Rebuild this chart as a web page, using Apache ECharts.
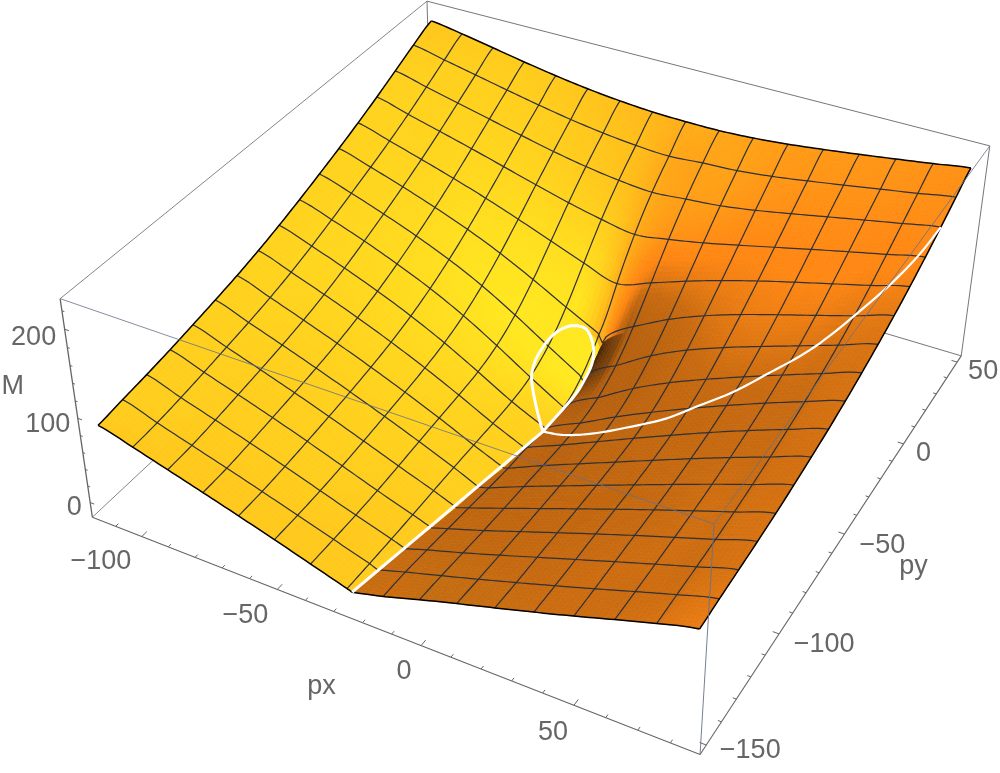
<!DOCTYPE html>
<html>
<head>
<meta charset="utf-8">
<style>html,body{margin:0;background:#fff}#chart{width:1000px;height:773px}</style>
<script src="https://cdn.jsdelivr.net/npm/echarts@6/dist/echarts.min.js"></script>
</head>
<body>
<div id="chart"></div>
<script>
// mesh lines of the surface
var pxLines = [-115, -102.5, -90, -77.5, -65, -52.5, -40, -27.5, -15, -2.5, 10, 22.5, 35, 47.5, 60, 72.5, 85];
var pyLines = [-150, -137.5, -125, -112.5, -100, -87.5, -75, -62.5, -50, -37.5, -25, -12.5, 0, 12.5, 25, 37.5, 50];

// M read at every mesh crossing, one row per py line
var mRows = [
  [88.0, 77.0, 65.3, 53.5, 41.4, 28.9, 16.0, 3.0, 10.0, 23.0, 35.2, 47.0, 59.0, 71.4, 84.4, 97.0, 108.0],
  [92.0, 79.0, 66.8, 54.6, 42.0, 29.1, 16.0, 3.0, 9.0, 21.0, 33.2, 45.7, 58.5, 71.5, 84.9, 98.0, 110.0],
  [95.8, 82.6, 70.2, 57.5, 44.2, 30.2, 16.3, 3.2, 5.9, 18.4, 31.6, 45.2, 58.7, 72.3, 85.6, 98.8, 111.7],
  [100.3, 87.1, 74.3, 61.1, 47.1, 32.4, 17.6, 3.8, 2.4, 15.8, 30.2, 44.6, 58.9, 72.9, 86.6, 100.0, 113.5],
  [105.4, 92.0, 78.6, 64.9, 50.5, 35.3, 19.8, 4.8, -1.0, 13.9, 29.0, 44.0, 58.9, 73.6, 87.9, 102.0, 115.9],
  [110.8, 97.1, 83.3, 69.1, 54.2, 38.7, 22.4, 5.5, -4.7, 12.1, 28.0, 43.7, 59.3, 74.8, 90.1, 104.8, 119.1],
  [116.7, 103.0, 88.9, 74.2, 58.7, 42.2, 24.7, 5.9, -8.0, 10.1, 27.0, 43.8, 60.6, 77.2, 93.2, 108.5, 123.0],
  [123.6, 110.1, 95.9, 80.8, 64.3, 46.4, 26.9, 6.1, -9.0, 8.3, 26.8, 45.2, 63.2, 80.8, 97.4, 113.0, 127.5],
  [131.6, 118.7, 104.6, 89.1, 71.9, 52.3, 30.2, 7.2, -12.0, 8.5, 30.3, 50.1, 68.6, 86.1, 102.8, 118.5, 133.0],
  [140.5, 128.3, 114.5, 99.0, 81.7, 61.4, 37.7, 12.2, -12.0, 14.0, 39.1, 59.8, 77.6, 94.0, 109.8, 125.0, 139.5],
  [150.1, 138.4, 125.1, 110.4, 93.9, 74.4, 51.2, 25.8, 1.1, 28.1, 53.8, 73.8, 90.2, 104.7, 118.7, 132.7, 146.8],
  [160.1, 148.8, 136.4, 123.0, 108.2, 91.1, 71.3, 50.0, 29.7, 51.8, 73.4, 90.7, 105.0, 117.6, 129.7, 142.1, 155.0],
  [170.8, 159.8, 148.6, 136.9, 124.3, 110.4, 95.7, 81.1, 68.2, 81.5, 96.0, 109.1, 121.1, 132.1, 142.7, 153.3, 164.4],
  [182.3, 171.9, 162.1, 152.0, 141.4, 130.7, 120.5, 111.9, 105.5, 111.5, 119.2, 128.4, 138.0, 147.6, 156.9, 166.0, 175.1],
  [194.6, 185.3, 176.5, 167.6, 158.7, 150.2, 143.1, 137.7, 134.7, 137.9, 141.5, 147.7, 155.3, 163.3, 171.3, 179.1, 186.8],
  [207.0, 199.0, 191.1, 183.1, 175.5, 168.6, 163.0, 159.0, 157.0, 160.0, 162.0, 166.4, 172.3, 178.8, 185.4, 192.0, 199.0],
  [218.0, 212.0, 205.0, 197.9, 191.4, 185.9, 181.8, 179.0, 178.0, 178.0, 180.0, 183.6, 188.3, 193.6, 199.2, 205.0, 211.0]
];

// px and M of the crease on the py lines that it crosses
var creasePx = [-25.75, -24.75, -22.75, -20.9, -19.4, -18.6, -16.6, -15.8, -14.9, -14.4, -14, -13.75];
var creaseM = [1, -1, -2.5, -4, -6, -8, -9.5, -11, -12.5, -13, -5, 20];
// how steeply the surface leaves the crease on those lines
var creasePower = [1, 1, 1, 1, 1, 1, 1, 1, 0.8, 0.6, 0.5, 0.6];

// white curves, [px, py]
var loopCurve = [[-15, -51.9], [-19, -47.6], [-27.5, -37.5], [-29, -30.9], [-28.5, -23.75], [-26.9, -19.25], [-24.1, -15.6],
  [-19.25, -13.1], [-14.4, -16.25], [-13.75, -22.5], [-14.4, -32], [-15, -40.5], [-15, -51.9]];
var rightCurve = [[-15, -51.9], [-8.75, -55.6], [-2.5, -56.9], [6.9, -57.9], [18.1, -56.25], [30.5, -54.25], [35.6, -50], [47.5, -44.5],
  [53.75, -37.5], [60, -32.1], [66.25, -25], [72.5, -12.5], [78.75, 0], [83, 12.5], [85, 25]];

// box and ticks
var pxRange = [-119, 89];
var pyRange = [-154, 54];
var mRange = [-18, 233];
var pxTicks = [-100, -50, 0, 50];
var pyTicks = [-150, -100, -50, 0, 50];
var mTicks = [0, 100, 200];
var pxMinor = [-110, -90, -80, -70, -60, -40, -30, -20, -10, 10, 20, 30, 40, 60, 70, 80];
var pyMinor = [-140, -130, -120, -110, -90, -80, -70, -60, -40, -30, -20, -10, 10, 20, 30, 40];
var mMinor = [20, 40, 60, 80, 120, 140, 160, 180, 220];

var SUB = 8;
var N = pxLines.length - 1;

// camera, box coordinates 0..1 to picture coordinates
function project(px, py, m) {
    var u = (px - pxRange[0]) / (pxRange[1] - pxRange[0]);
    var v = (py - pyRange[0]) / (pyRange[1] - pyRange[0]);
    var w = (m - mRange[0]) / (mRange[1] - mRange[0]);
    var d = -0.11858 * u + 0.209 * v - 0.06819 * w + 1;
    return [(524.69 * u + 431.08 * v - 36.32 * w + 92.35) / d, (147.81 * u - 276.98 * v - 238.91 * w + 517.21) / d];
}

function toI(px) { return (px - pxLines[0]) / (pxLines[1] - pxLines[0]); }
function toJ(py) { return (py - pyLines[0]) / (pyLines[1] - pyLines[0]); }

function cat(a, b, c, d, t) {
    return 0.5 * (2 * b + (c - a) * t + (2 * a - 5 * b + 4 * c - d) * t * t + (3 * b - a - 3 * c + d) * t * t * t);
}

function creaseAt(j) {
    return j < creasePx.length ? toI(creasePx[j]) : 8;
}
function creaseAtY(y) {
    var j = Math.min(Math.floor(y), N - 1);
    return creaseAt(j) + (creaseAt(j + 1) - creaseAt(j)) * (y - j);
}

function warp(a, c) {
    if (a <= 7 || a >= 9) return a;
    return a < 8 ? 7 + (a - 7) * (c - 7) : c + (a - 8) * (9 - c);
}
function unwarp(x, c) {
    if (x <= 7 || x >= 9) return x;
    return x < c ? 7 + (x - 7) / (c - 7) : 8 + (x - c) / (9 - c);
}

// one py line at warped position a: two separate pieces joined at the crease
function rowValue(j, a) {
    var r = mRows[j];
    var c = creaseAt(j);
    var x = warp(a, c);
    if (j >= creasePx.length) {
        var k0 = Math.min(Math.floor(x), N - 1);
        return cat(r[Math.max(k0 - 1, 0)], r[k0], r[k0 + 1], r[Math.min(k0 + 2, N)], x - k0);
    }
    var s = Math.floor(c);
    var f = c - s;
    var mc = creaseM[j];
    if (x <= c) {
        if (x >= s) return f > 0 ? r[s] + (mc - r[s]) * (x - s) / f : r[s];
        var k = Math.floor(x);
        var n = k + 2 <= s ? r[k + 2] : 2 * r[s] - r[s - 1];
        return cat(r[Math.max(k - 1, 0)], r[k], r[k + 1], n, x - k);
    }
    if (x <= s + 1) {
        var t = (x - c) / (s + 1 - c);
        return mc + (r[s + 1] - mc) * Math.pow(t, creasePower[j]);
    }
    var q = Math.min(Math.floor(x), N - 1);
    var p = q - 1 >= s + 1 ? r[q - 1] : 2 * r[s + 1] - r[s + 2];
    return cat(p, r[q], r[q + 1], r[Math.min(q + 2, N)], x - q);
}

function surface(a, y) {
    var j = Math.min(Math.floor(y), N - 1);
    return cat(rowValue(Math.max(j - 1, 0), a), rowValue(j, a), rowValue(j + 1, a), rowValue(Math.min(j + 2, N), a), y - j);
}

function point(a, y) {
    var x = warp(a, creaseAtY(y));
    return project(pxLines[0] + x * 12.5, pyLines[0] + y * 12.5, surface(a, y));
}

function clamp(v, lo, hi) { return Math.max(lo, Math.min(hi, v)); }

// lighting, from the two slopes per mesh cell
function shade(a, y) {
    var c = creaseAtY(y);
    var d = 0.8;
    var a1 = Math.max(a - d, 0), a2 = Math.min(a + d, N);
    if (y < 10.9) {
        if (a < 8) a2 = Math.min(a2, 8);
        else a1 = Math.max(a1, 8);
    }
    var mi = (surface(a2, y) - surface(a1, y)) / (warp(a2, c) - warp(a1, c));
    var y1 = Math.max(y - d, 0), y2 = Math.min(y + d, N);
    var mj = clamp((surface(a, y2) - surface(a, y1)) / (y2 - y1), -5, 15);
    var t = mj < 2.3 ? 6.3 + mj : 8.25 + 0.15 * mj;
    var q = Math.max(0, mi - t);
    var dark = q < 7 ? 8 * q : 56 + 2.5 * (q - 7) + (q > 18 ? 8 * (q - 18) : 0);
    var r = clamp(255 - dark, 40, 255);
    var up = Math.max(mj, 0);
    var f = mi < 0 ? -64 * (1 - Math.exp(mi / 10)) : 3.8 * mi;
    var g = clamp(Math.max(154 + 1.2 * up - f, r * 0.53), 20, 235);
    var b = 3 + 0.12 * g;
    return 'rgb(' + Math.round(r) + ',' + Math.round(g) + ',' + Math.round(b) + ')';
}

// painted from the far corner to the near one
var patches = [];
for (var sj = N * SUB - 1; sj >= 0; sj--) {
    for (var si = 0; si < N * SUB; si++) {
        patches.push([si, sj]);
    }
}

function renderPatch(params, api) {
    var si = api.value(0), sj = api.value(1);
    var a0 = si / SUB, a1 = (si + 1) / SUB, y0 = sj / SUB, y1 = (sj + 1) / SUB;
    var pts = [point(a0, y0), point(a1, y0), point(a1, y1), point(a0, y1)].map(function (p) { return api.coord(p); });
    var col = shade((a0 + a1) / 2, (y0 + y1) / 2);
    return { type: 'polygon', shape: { points: pts }, style: { fill: col, stroke: col, lineWidth: 0.7 } };
}

// all lines go through here
function pathSeries(paths, z) {
    return {
        type: 'custom', coordinateSystem: 'cartesian2d', silent: true, animation: false, clip: false, z: z,
        data: paths.map(function (p, i) { return [i]; }),
        renderItem: function (params, api) {
            var p = paths[api.value(0)];
            return {
                type: 'polyline',
                shape: { points: p.pts.map(function (q) { return api.coord(q); }) },
                style: { fill: null, stroke: p.color, lineWidth: p.width, lineJoin: 'round' }
            };
        }
    };
}

function meshLine(fixed, isRow, width, color) {
    var pts = [];
    for (var k = 0; k <= N * SUB; k++) {
        var t = k / SUB;
        if (isRow) pts.push(point(t, fixed));
        else pts.push(point(unwarp(fixed, creaseAtY(t)), t));
    }
    return { pts: pts, width: width, color: color };
}

var meshPaths = [];
for (var ml = 1; ml < N; ml++) {
    meshPaths.push(meshLine(ml, true, 1.2, '#2f3136'));
    meshPaths.push(meshLine(ml, false, 1.2, '#2f3136'));
}
[0, N].forEach(function (e) {
    meshPaths.push(meshLine(e, true, 1.5, '#000'));
    meshPaths.push(meshLine(e, false, 1.5, '#000'));
});

// white curve on the surface, rounded off, ends kept
function whiteLine(curve, width, passes) {
    var pts = [];
    for (var k = 0; k < curve.length - 1; k++) {
        for (var s = 0; s < 6; s++) {
            var c0 = curve[k], c1 = curve[k + 1], t = s / 6;
            var x = toI(c0[0] + (c1[0] - c0[0]) * t), y = toJ(c0[1] + (c1[1] - c0[1]) * t);
            pts.push(point(unwarp(x, creaseAtY(y)), y));
        }
    }
    var last = curve[curve.length - 1];
    pts.push(point(unwarp(toI(last[0]), creaseAtY(toJ(last[1]))), toJ(last[1])));
    for (var pass = 0; pass < passes; pass++) {
        pts = pts.map(function (p, i) {
            if (i == 0 || i == pts.length - 1) return p;
            return [(pts[i - 1][0] + 2 * p[0] + pts[i + 1][0]) / 4, (pts[i - 1][1] + 2 * p[1] + pts[i + 1][1]) / 4];
        });
    }
    return { pts: pts, width: width, color: '#fff' };
}
var loopLine = whiteLine(loopCurve, 3, 5);
var whitePaths = [
    { pts: [point(8, 0), loopLine.pts[0]], width: 3, color: '#fff' },
    loopLine,
    whiteLine(rightCurve, 2.2, 14)
];

var x0 = pxRange[0], x1 = pxRange[1], y0 = pyRange[0], y1 = pyRange[1], z0 = mRange[0], z1 = mRange[1];
function edge(a, b, width, color) { return { pts: [project(a[0], a[1], a[2]), project(b[0], b[1], b[2])], width: width, color: color }; }

var backPaths = [
    edge([x0, y1, z1], [x0, y0, z1], 0.8, '#666'),
    edge([x0, y1, z1], [x1, y1, z1], 0.9, '#666'),
    edge([x0, y1, z1], [x0, y1, z0], 0.9, '#666'),
    edge([x0, y0, z0], [x0, y1, z0], 0.8, '#666'),
    edge([x0, y1, z0], [x1, y1, z0], 0.9, '#666'),
    edge([x1, y1, z1], [x1, y1, z0], 0.9, '#666')
];
var frontPaths = [
    edge([x0, y0, z1], [x1, y0, z1], 0.8, '#667088'),
    edge([x1, y0, z1], [x1, y1, z1], 0.8, '#667088'),
    edge([x1, y0, z1], [x1, y0, z0], 0.9, '#667088'),
    edge([x0, y0, z0], [x1, y0, z0], 1.1, '#666'),
    edge([x1, y0, z0], [x1, y1, z0], 1.1, '#666'),
    edge([x0, y0, z0], [x0, y0, z1], 1.3, '#666')
];
pxTicks.forEach(function (t) { frontPaths.push(edge([t, y0, z0], [t, y0 + 2.6, z0], 1, '#666')); });
pxMinor.forEach(function (t) { frontPaths.push(edge([t, y0, z0], [t, y0 + 1.4, z0], 1, '#666')); });
pyTicks.forEach(function (t) { frontPaths.push(edge([x1, t, z0], [x1 - 2, t, z0], 1, '#666')); });
pyMinor.forEach(function (t) { frontPaths.push(edge([x1, t, z0], [x1 - 1.1, t, z0], 1, '#666')); });
mTicks.forEach(function (t) { frontPaths.push(edge([x0, y0, t], [x0 + 1.6, y0, t], 1, '#666')); });
mMinor.forEach(function (t) { frontPaths.push(edge([x0, y0, t], [x0 + 0.9, y0, t], 1, '#666')); });

// text, placed from the tick it belongs to
var labels = [];
function minus(v) { return v < 0 ? '\u2212' + (-v) : String(v); }
var pxShift = [[-41, 25], [-32, 26], [-17, 26], [-21, 27]];
var pyShift = [[44, 6], [45, 11], [38, 11], [20, 10], [26, 9]];
var mShift = [[-16, 5], [-30, 6], [-31, 8]];
pxTicks.forEach(function (t, i) { labels.push({ at: project(t, y0, z0), d: pxShift[i], text: minus(t) }); });
pyTicks.forEach(function (t, i) { labels.push({ at: project(x1, t, z0), d: pyShift[i], text: minus(t) }); });
mTicks.forEach(function (t, i) { labels.push({ at: project(x0, y0, t), d: mShift[i], text: minus(t) }); });
labels.push({ at: project(-20, y0, z0), d: [-41, 64], text: 'px' });
labels.push({ at: project(x1, -50, z0), d: [69, 32], text: 'py' });
labels.push({ at: project(x0, y0, 100), d: [-65, -32], text: 'M' });

var chart = echarts.init(document.getElementById('chart'), null, { renderer: 'canvas' });
chart.setOption({
    animation: false,
    grid: { left: 0, right: 0, top: 0, bottom: 0 },
    xAxis: { type: 'value', min: 0, max: 1000, show: false },
    yAxis: { type: 'value', min: 0, max: 773, inverse: true, show: false },
    series: [
        pathSeries(backPaths, 1),
        {
            type: 'custom', coordinateSystem: 'cartesian2d', silent: true, animation: false, clip: false, z: 2,
            progressive: 0, data: patches, renderItem: renderPatch
        },
        pathSeries(meshPaths, 3),
        pathSeries(whitePaths, 4),
        pathSeries(frontPaths, 5),
        {
            type: 'custom', coordinateSystem: 'cartesian2d', silent: true, animation: false, clip: false, z: 6,
            data: labels.map(function (l, i) { return [i]; }),
            renderItem: function (params, api) {
                var l = labels[api.value(0)];
                var p = api.coord(l.at);
                return {
                    type: 'text',
                    style: {
                        x: p[0] + l.d[0], y: p[1] + l.d[1], text: l.text, fill: '#666',
                        font: '27px "Liberation Sans"', align: 'center', verticalAlign: 'middle'
                    }
                };
            }
        }
    ]
});
</script>
</body>
</html>
